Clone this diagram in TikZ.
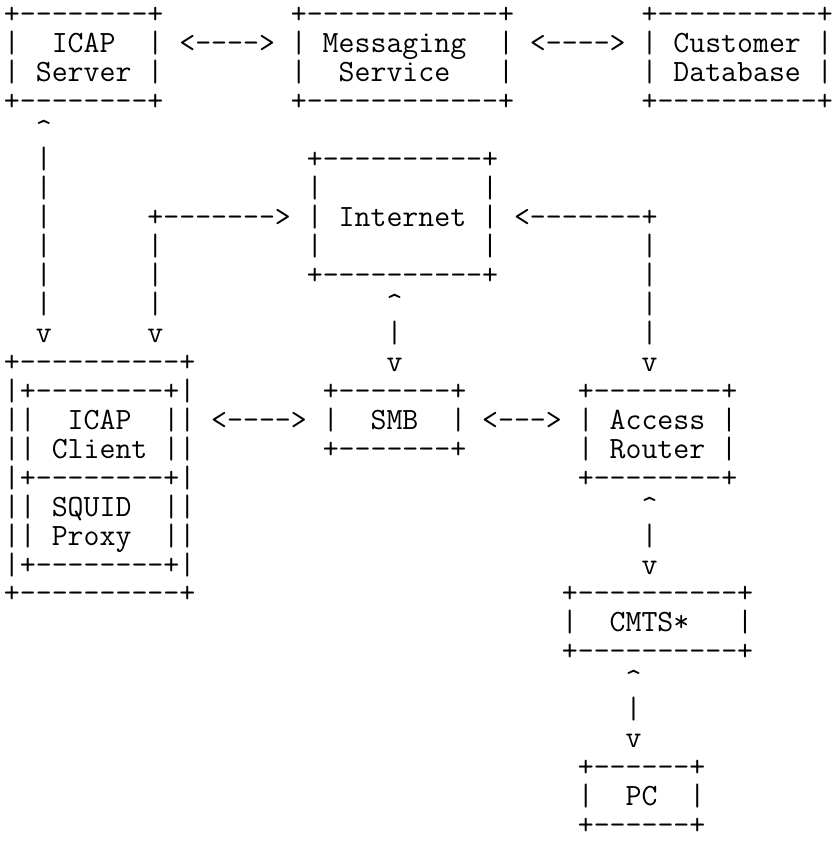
\documentclass[tikz,border=0pt]{standalone}
\usepackage{tikz}

\newlength\chw
\newcommand\asciifont{\ttfamily\fontsize{15.24pt}{16pt}\selectfont}
\AtBeginDocument{\settowidth{\chw}{\asciifont 0}}
\tikzset{
    ascii/.style={anchor=base west,inner sep=0pt,outer sep=0pt,font=\asciifont}
}

\begin{document}
\begin{tikzpicture}[x=\chw,y=-1.81875\chw]
    \useasboundingbox (-0.25,-0.8) rectangle (51.95,28.21);
    \foreach \r/\c/\s in{
    0/0/{+--------+}, 0/18/{+------------+}, 0/40/{+----------+},
    1/0/{|~~ICAP~~|}, 1/11/{<---->}, 1/18/{|~Messaging~~|}, 1/33/{<---->}, 1/40/{|~Customer~|},
    2/0/{|~Server~|}, 2/18/{|~~Service~~~|}, 2/40/{|~Database~|},
    3/0/{+--------+}, 3/18/{+------------+}, 3/40/{+----------+},
    4/2/{\textasciicircum},
    5/2/{|}, 5/19/{+----------+},
    6/2/{|}, 6/19/{|~~~~~~~~~~|},
    7/2/{|}, 7/9/{+------->}, 7/19/{|~Internet~|}, 7/32/{<-------+},
    8/2/{|}, 8/9/{|}, 8/19/{|~~~~~~~~~~|}, 8/40/{|},
    9/2/{|}, 9/9/{|}, 9/19/{+----------+}, 9/40/{|},
    10/2/{|}, 10/9/{|}, 10/24/{\textasciicircum}, 10/40/{|},
    11/2/{v}, 11/9/{v}, 11/24/{|}, 11/40/{|},
    12/0/{+----------+}, 12/24/{v}, 12/40/{v},
    13/0/{|+--------+|}, 13/20/{+-------+}, 13/36/{+--------+},
    14/0/{||~~ICAP~~||}, 14/13/{<---->}, 14/20/{|~~SMB~~|}, 14/30/{<--->}, 14/36/{|~Access~|},
    15/0/{||~Client~||}, 15/20/{+-------+}, 15/36/{|~Router~|},
    16/0/{|+--------+|}, 16/36/{+--------+},
    17/0/{||~SQUID~~||}, 17/40/{\textasciicircum},
    18/0/{||~Proxy~~||}, 18/40/{|},
    19/0/{|+--------+|}, 19/40/{v},
    20/0/{+----------+}, 20/35/{+----------+},
    21/35/{|~~CMTS*~~~|},
    22/35/{+----------+},
    23/39/{\textasciicircum},
    24/39/{|},
    25/39/{v},
    26/36/{+------+},
    27/36/{|~~PC~~|},
    28/36/{+------+}
    }
    {
        \node[ascii] (r\r c\c) at (\c,\r) {\s};
    }
\end{tikzpicture}
\end{document}
